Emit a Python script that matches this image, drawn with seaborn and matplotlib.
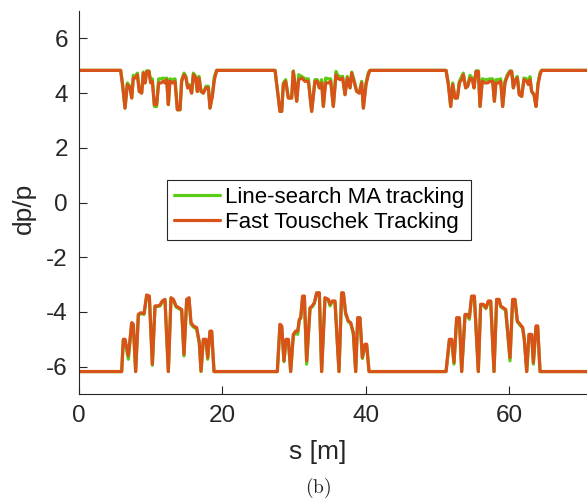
import numpy as np
import pandas as pd
import matplotlib
matplotlib.use("Agg")
import matplotlib.pyplot as plt
import seaborn as sns

# ---------------- data ----------------
labels = ["Line-search MA tracking", "Fast Touschek Tracking"]
colors = ["#5ACD14", "#D95319"]
xticks = [0, 20, 40, 60]
yticks = [-6, -4, -2, 0, 2, 4, 6]

s_up = [0.0,
        5.81, 6.09, 6.42, 6.74, 7.11, 7.35, 7.58, 7.86, 8.14, 8.41, 8.74, 8.97, 9.21, 9.44, 9.76,
        9.99, 10.23, 10.51, 10.83, 11.11, 11.44, 11.76, 11.99, 12.23, 12.46, 12.69, 13.06, 13.39,
        13.72, 14.09, 14.32, 14.65, 14.92, 15.16, 15.39, 15.71, 15.95, 16.27, 16.50, 16.74, 17.02,
        17.34, 17.71, 18.04, 18.27, 18.60, 18.88, 19.20,
        27.34, 28.03, 28.27, 28.50, 28.82, 29.20, 29.66, 29.89, 30.12, 30.36, 30.64, 31.06, 31.52,
        31.99, 32.45, 32.91, 33.24, 33.52, 33.84, 34.08, 34.40, 34.77, 35.10, 35.47, 35.84, 36.08,
        36.40, 36.77, 37.10, 37.42, 37.80, 38.03, 38.35, 38.73, 39.10, 39.42, 39.66, 40.03, 40.35,
        40.59,
        51.19, 51.51, 51.84, 52.12, 52.44, 52.77, 53.05, 53.37, 53.60, 53.93, 54.21, 54.53, 54.86,
        55.09, 55.37, 55.70, 55.93, 56.25, 56.63, 56.95, 57.32, 57.69, 57.93, 58.16, 58.48, 58.81,
        59.09, 59.41, 59.74, 60.11, 60.34, 60.58, 60.81, 61.13, 61.41, 61.74, 62.06, 62.44, 62.67,
        62.90, 63.13, 63.46, 63.74, 64.02, 64.30, 64.53,
        70.85]

up_ft = [4.83,
         4.83, 4.25, 3.45, 4.31, 4.19, 3.82, 4.55, 4.55, 4.67, 4.06, 4.00, 4.73, 4.37, 4.79, 4.79,
         4.37, 4.43, 3.58, 3.58, 4.37, 4.37, 4.43, 4.37, 4.49, 3.58, 4.43, 4.37, 4.43,
         3.39, 3.39, 4.43, 4.67, 4.55, 4.19, 4.25, 4.00, 4.67, 4.55, 4.06, 4.55, 4.06,
         4.00, 4.19, 4.19, 3.45, 3.88, 4.49, 4.83,
         4.83, 3.33, 3.33, 4.31, 4.43, 3.82, 3.82, 4.79, 4.31, 3.70, 4.49, 4.55, 4.43,
         4.43, 3.33, 4.43, 4.43, 4.19, 4.37, 3.51, 4.37, 4.37, 4.43, 3.51, 4.67, 4.55,
         4.49, 4.55, 3.94, 4.55, 4.19, 4.73, 4.43, 4.06, 4.00, 4.37, 3.45, 4.31, 4.67,
         4.83,
         4.83, 4.31, 3.51, 4.31, 3.82, 3.82, 4.37, 4.49, 4.67, 4.19, 4.25, 4.55, 4.49,
         4.19, 4.79, 4.79, 3.51, 4.43, 4.37, 4.37, 4.43, 4.43, 3.70, 4.37, 4.37, 4.43,
         3.51, 4.37, 4.61, 4.79, 4.79, 4.19, 4.43, 4.55, 3.94, 3.88, 4.49, 4.43, 4.31,
         4.49, 4.06, 3.94, 3.51, 4.31, 4.67, 4.83,
         4.83]

up_ma = [4.83,
         4.83, 4.31, 3.45, 4.37, 4.25, 3.82, 4.65, 4.61, 4.73, 4.06, 4.00, 4.77, 4.37, 4.81, 4.81,
         4.43, 4.52, 3.51, 3.51, 4.52, 4.52, 4.55, 4.52, 4.55, 3.58, 4.52, 4.49, 4.52,
         3.39, 3.39, 4.49, 4.73, 4.61, 4.19, 4.31, 4.00, 4.73, 4.61, 4.06, 4.61, 4.06,
         4.00, 4.25, 4.25, 3.45, 3.94, 4.61, 4.83,
         4.83, 3.33, 3.33, 4.37, 4.49, 3.82, 3.82, 4.81, 4.31, 3.70, 4.67, 4.61, 4.52,
         4.52, 3.33, 4.49, 4.49, 4.19, 4.49, 3.51, 4.55, 4.52, 4.52, 3.51, 4.79, 4.65,
         4.60, 4.61, 3.94, 4.61, 4.19, 4.77, 4.49, 4.06, 4.00, 4.43, 3.45, 4.37, 4.75,
         4.83,
         4.83, 4.37, 3.51, 4.37, 3.82, 3.82, 4.43, 4.60, 4.73, 4.19, 4.25, 4.65, 4.55,
         4.19, 4.81, 4.81, 3.51, 4.52, 4.49, 4.49, 4.52, 4.52, 3.70, 4.49, 4.49, 4.52,
         3.51, 4.43, 4.67, 4.81, 4.81, 4.19, 4.49, 4.61, 3.94, 3.88, 4.55, 4.52, 4.37,
         4.60, 4.06, 3.94, 3.51, 4.37, 4.75, 4.83,
         4.83]

s_low = [0.0,
         5.95, 6.18, 6.42, 6.88, 7.35, 7.58, 7.90, 8.28, 8.60, 9.07, 9.44, 9.81, 10.23, 10.60,
         10.97, 11.30, 11.62, 11.99, 12.46, 12.83, 13.16, 13.53, 13.95, 14.32, 14.64, 15.02,
         15.34, 15.62, 15.95, 16.41, 16.78, 17.02, 17.34, 17.71, 17.95, 18.27, 18.50, 18.83,
         27.66, 28.03, 28.27, 28.59, 28.87, 29.20, 29.52, 29.89, 30.22, 30.50, 30.73, 30.92,
         31.19, 31.43, 31.75, 32.22, 32.54, 32.82, 33.15, 33.52, 33.84, 34.31, 34.77, 35.01,
         35.33, 35.70, 36.26, 36.63, 36.87, 37.19, 37.56, 37.89, 38.26, 38.59, 38.87, 39.19,
         39.52, 39.89, 40.12, 40.45,
         51.19, 51.65, 51.98, 52.30, 52.67, 53.05, 53.37, 53.84, 54.16, 54.44, 54.76, 55.14,
         55.69, 56.02, 56.39, 56.76, 57.09, 57.42, 57.88, 58.25, 58.58, 58.81, 59.18, 59.51,
         60.11, 60.48, 60.81, 61.13, 61.51, 61.88, 62.11, 62.44, 62.76, 63.13, 63.37, 63.74,
         63.97, 64.30,
         70.85]

low_ft = [-6.18,
          -6.18, -5.00, -5.00, -5.61, -4.39, -4.45, -6.18, -4.09, -4.03, -4.06, -3.38, -3.42, -5.91, -3.78,
          -3.78, -3.75, -3.60, -3.54, -6.18, -3.48, -3.54, -3.78, -3.85, -3.91, -5.55, -3.54,
          -3.48, -4.39, -4.51, -4.57, -5.12, -6.16, -5.00, -5.00, -5.67, -4.70, -4.70, -6.18,
          -6.18, -4.45, -4.51, -5.79, -5.00, -5.00, -6.18, -4.82, -4.70, -4.70, -4.27, -4.21,
          -3.42, -3.42, -5.79, -3.85, -3.78, -3.66, -3.30, -3.30, -6.18, -3.48, -3.54, -3.72,
          -3.60, -3.60, -6.18, -3.30, -3.30, -4.03, -4.33, -4.39, -4.76, -6.18, -4.21, -4.21,
          -5.67, -5.18, -5.18, -6.18,
          -6.18, -5.00, -5.00, -5.85, -4.21, -4.21, -6.18, -4.09, -4.09, -4.21, -3.42, -3.42,
          -6.18, -3.72, -3.72, -3.85, -3.60, -3.60, -6.18, -3.54, -3.54, -3.78, -3.85, -3.91,
          -5.67, -3.54, -3.54, -4.33, -4.45, -4.57, -5.00, -6.18, -4.82, -4.82, -5.85, -4.51,
          -4.51, -6.18,
          -6.18]

low_ma = [-6.18,
          -6.18, -5.05, -5.05, -5.73, -4.45, -4.51, -6.18, -4.12, -4.06, -4.09, -3.40, -3.44, -5.95, -3.80,
          -3.80, -3.78, -3.62, -3.56, -6.18, -3.50, -3.56, -3.82, -3.88, -3.95, -5.61, -3.56,
          -3.50, -4.45, -4.55, -4.63, -5.15, -6.18, -5.03, -5.03, -5.73, -4.72, -4.72, -6.18,
          -6.18, -4.48, -4.54, -5.82, -5.03, -5.03, -6.18, -4.88, -4.76, -4.82, -4.30, -4.24,
          -3.44, -3.44, -5.91, -3.88, -3.81, -3.69, -3.32, -3.32, -6.18, -3.50, -3.56, -3.78,
          -3.62, -3.62, -6.18, -3.32, -3.32, -4.09, -4.36, -4.42, -4.79, -6.18, -4.24, -4.24,
          -5.70, -5.21, -5.21, -6.18,
          -6.18, -5.10, -5.03, -5.91, -4.27, -4.24, -6.18, -4.12, -4.12, -4.27, -3.44, -3.44,
          -6.18, -3.75, -3.75, -3.88, -3.62, -3.62, -6.18, -3.56, -3.56, -3.81, -3.88, -3.94,
          -5.79, -3.56, -3.56, -4.36, -4.48, -4.60, -5.03, -6.18, -4.85, -4.85, -5.91, -4.54,
          -4.54, -6.18,
          -6.18]

# ---------------- build long table ----------------
frames = []
for band, s, ma, ft in [("upper", s_up, up_ma, up_ft), ("lower", s_low, low_ma, low_ft)]:
    frames.append(pd.DataFrame({"s": s, "dp": ma, "method": labels[0], "band": band}))
    frames.append(pd.DataFrame({"s": s, "dp": ft, "method": labels[1], "band": band}))
df = pd.concat(frames, ignore_index=True)

# ---------------- plotting ----------------
sns.set_theme(style="white")
plt.rcParams['font.family'] = ['Liberation Sans', 'DejaVu Sans']
ink = "#262626"

W, H = 587, 500
fig = plt.figure(figsize=(W / 100, H / 100), dpi=100)
ax = fig.add_axes([79 / W, 1 - 394 / H, 508 / W, 383 / H])

sns.lineplot(data=df, x="s", y="dp", hue="method", hue_order=labels,
             palette=colors, units="band", estimator=None, sort=False,
             linewidth=2.3, ax=ax)

ax.set_xlim(0, 70.85)
ax.set_ylim(-7, 7)
ax.set_xticks(xticks)
ax.set_yticks(yticks)
ax.set_xticklabels([str(t) for t in xticks])
ax.set_yticklabels([str(t) for t in yticks])

for side in ["top", "right"]:
    ax.spines[side].set_visible(False)
for side in ["left", "bottom"]:
    ax.spines[side].set_color(ink)
    ax.spines[side].set_linewidth(0.8)

ax.tick_params(direction="in", length=6, width=0.8, colors=ink, labelsize=17.5,
               bottom=True, left=True, pad=8)

ax.set_xlabel("s [m]", fontsize=19, color=ink, va="center", ha="center")
ax.set_ylabel("dp/p", fontsize=19, color=ink, va="center", ha="center")
ax.xaxis.set_label_coords((318 - 79) / 508, (394 - 452) / 383)
ax.yaxis.set_label_coords((24 - 79) / 508, (394 - 208) / 383)

leg = ax.legend(loc="upper left", bbox_to_anchor=((167 - 79) / 508, (394 - 180) / 383),
                borderaxespad=0, frameon=True, fancybox=False, fontsize=16,
                handlelength=2.1, handletextpad=0.2, labelspacing=0.2,
                borderpad=0.3, title=None)
leg.get_frame().set_edgecolor(ink)
leg.get_frame().set_linewidth(0.8)
leg.get_frame().set_alpha(1)
for t in leg.get_texts():
    t.set_color("black")
for l in leg.get_lines():
    l.set_linewidth(2.3)

fig.text(318 / W, 1 - 488 / H, r"$\mathrm{(b)}$", math_fontfamily="cm",
         fontsize=14, ha="center", va="center", color=ink)

fig.savefig("out.png", dpi=100)
